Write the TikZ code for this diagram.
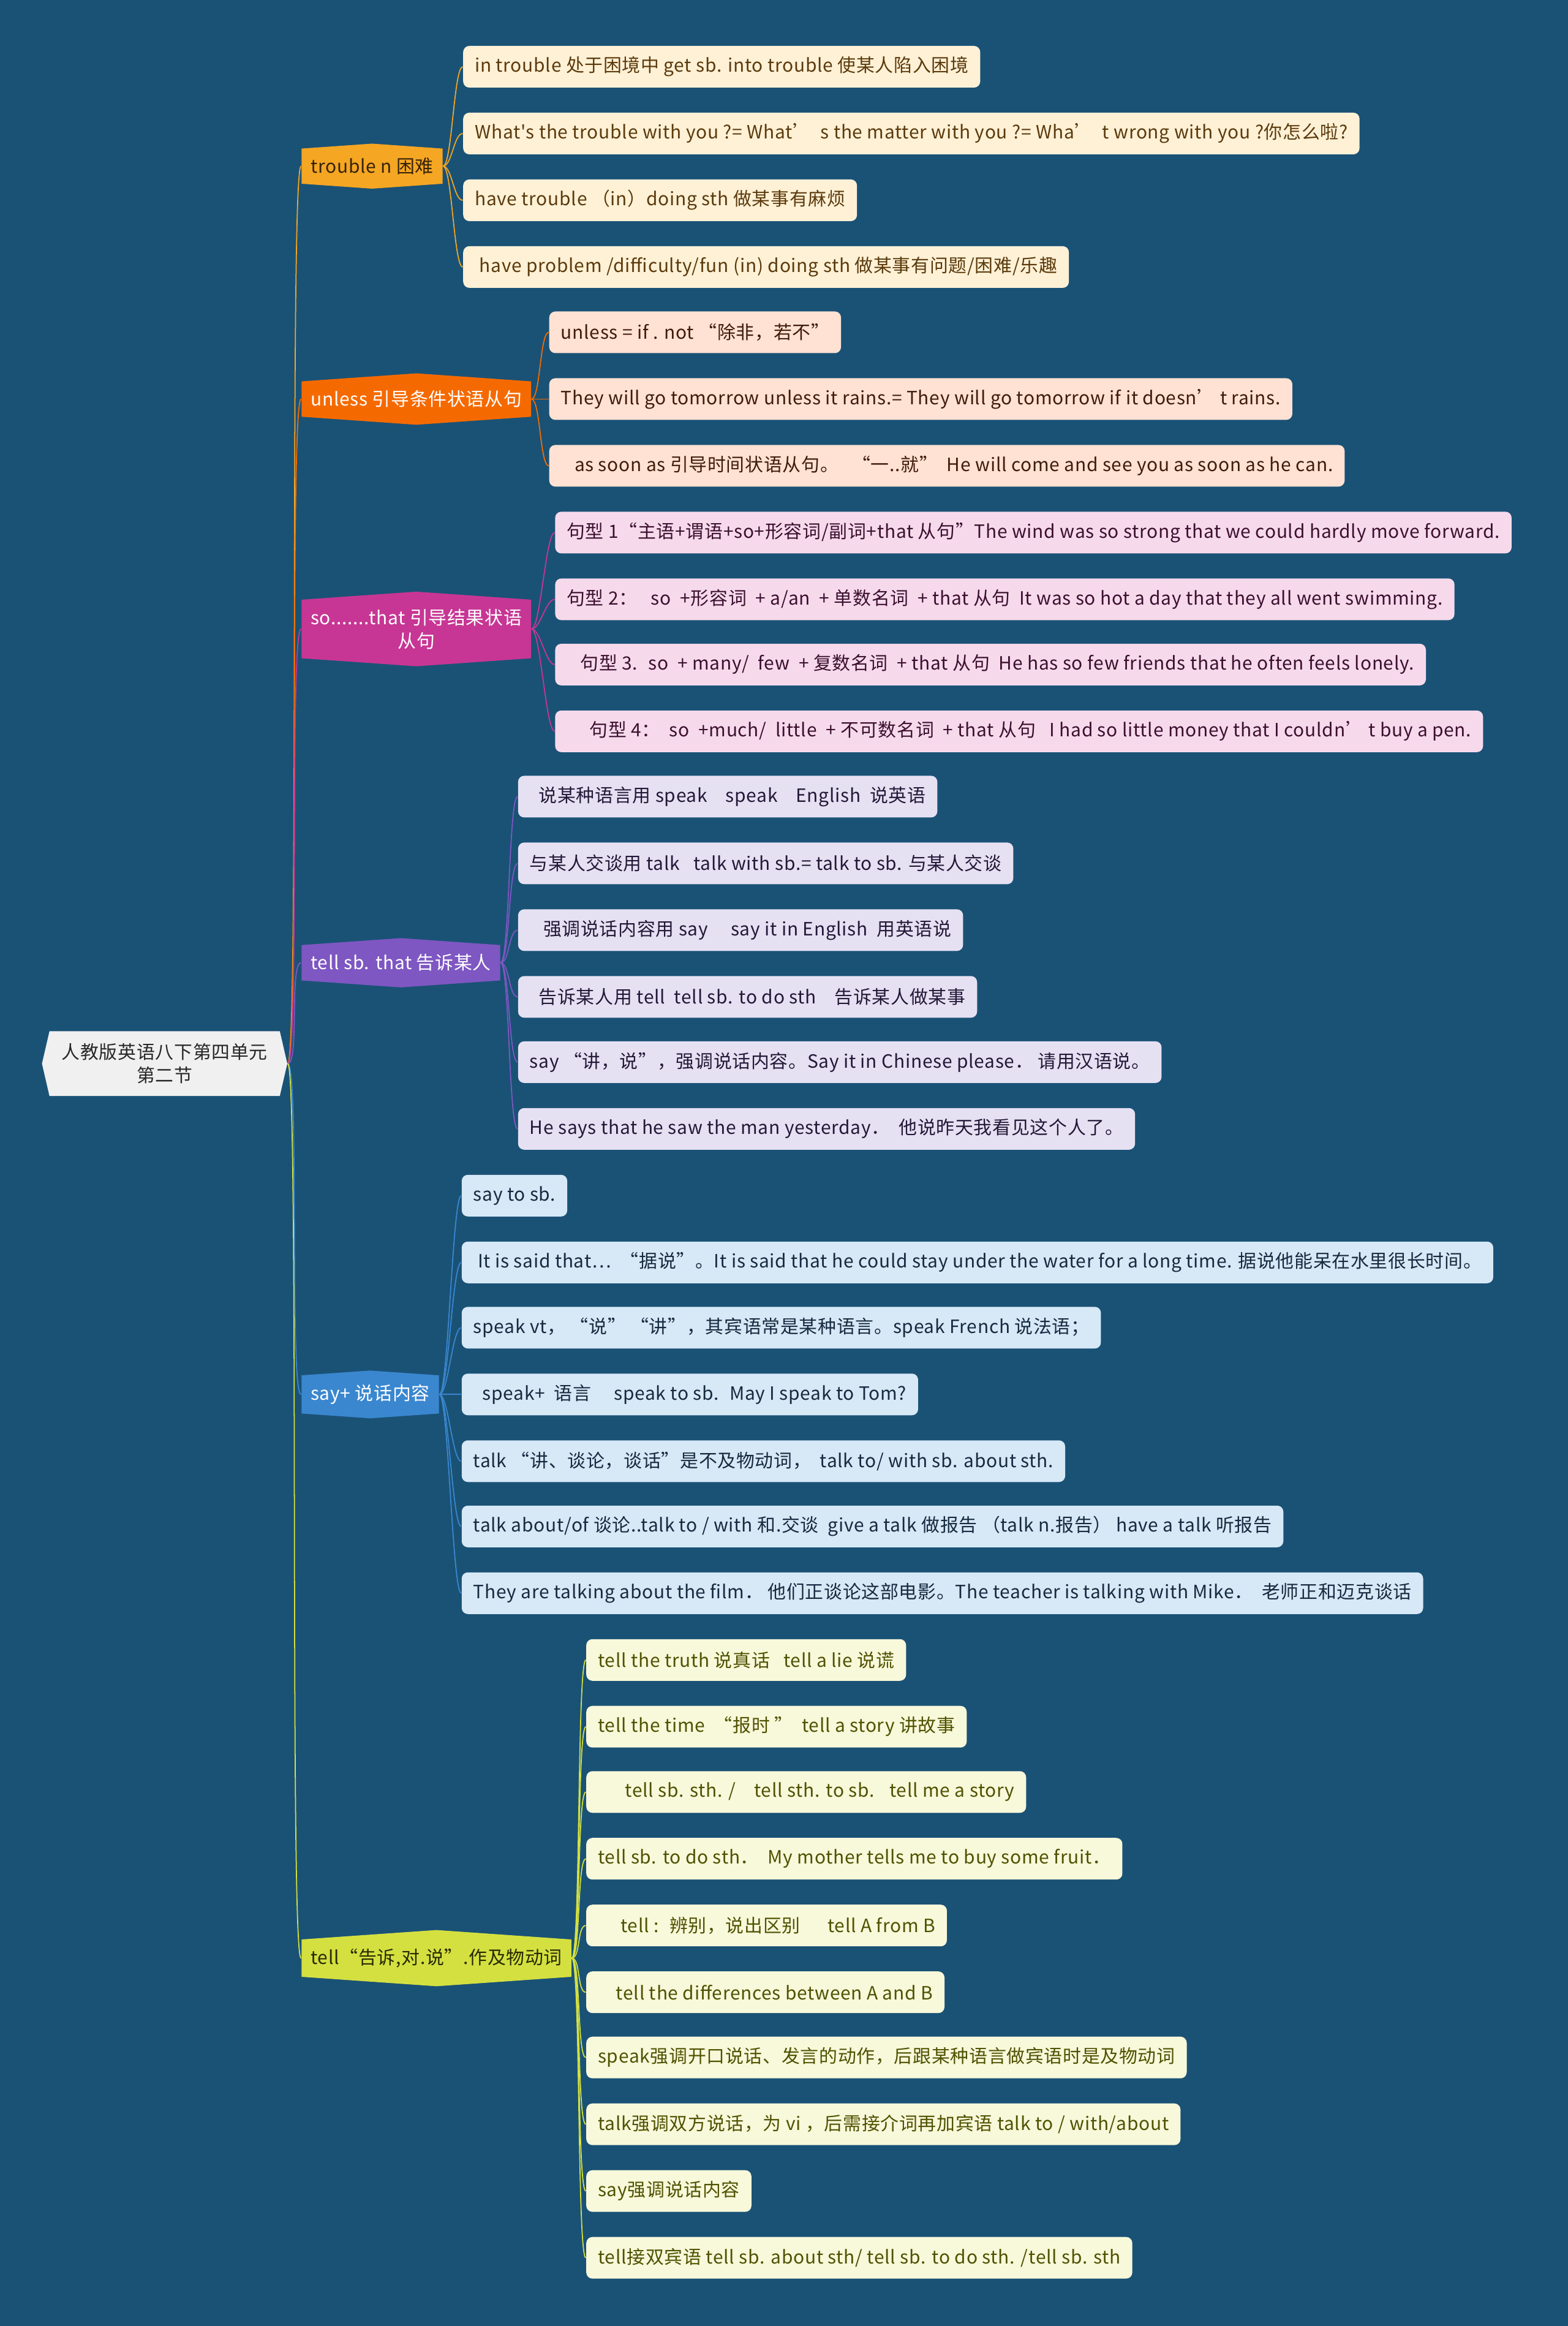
\documentclass[tikz,border=0pt]{standalone}
\usepackage{fontspec}
\setmainfont{Noto Sans CJK SC}[Ligatures=TeXOff, LetterSpace=2.5]
\usepackage{tikz}
\usetikzlibrary{shapes.symbols}
\definecolor{mapBg}{RGB}{26,82,118}
\definecolor{rootFill}{RGB}{240,240,240}
\definecolor{rootText}{RGB}{40,40,40}
\definecolor{troubleC}{RGB}{245,166,35}
\definecolor{troubleLeaf}{RGB}{255,241,214}
\definecolor{troubleText}{RGB}{91,58,12}
\definecolor{unlessC}{RGB}{245,106,0}
\definecolor{unlessLeaf}{RGB}{255,226,211}
\definecolor{unlessText}{RGB}{64,27,12}
\definecolor{sothatC}{RGB}{199,54,148}
\definecolor{sothatLeaf}{RGB}{246,218,236}
\definecolor{sothatText}{RGB}{60,15,46}
\definecolor{tellsbC}{RGB}{126,87,194}
\definecolor{tellsbLeaf}{RGB}{230,225,242}
\definecolor{tellsbText}{RGB}{34,24,56}
\definecolor{sayC}{RGB}{58,135,208}
\definecolor{sayLeaf}{RGB}{215,232,246}
\definecolor{sayText}{RGB}{21,42,64}
\definecolor{tellC}{RGB}{212,224,64}
\definecolor{tellLeaf}{RGB}{248,248,218}
\definecolor{tellText}{RGB}{79,82,0}

\begin{document}
\begin{tikzpicture}[
    x=0.02422cm, y=-0.02422cm,
    every node/.style={font=\fontsize{8.5}{10.8}\selectfont},
    rootbox/.style={shape=signal, signal to=west and east, signal pointer angle=154,
      fill=rootFill, text=rootText, align=center, inner xsep=0.2cm, inner ysep=0.2cm},
    branchbox/.style={shape=signal, signal to=north and south, signal pointer angle=172,
      anchor=west, align=center, inner xsep=0.15cm, inner ysep=0.15cm},
    leafbox/.style={rounded corners=1mm, anchor=west, minimum height=0.68cm,
      inner xsep=0.19cm, inner ysep=0.1cm},
    linkline/.style={line width=0.5pt}
  ]
    \useasboundingbox (0,0) rectangle (1057,1568);
    \fill[mapBg] (0,0) rectangle (1057,1568);

    % Root
    \node[rootbox] (root) at (111, 717) {人教版英语八下第四单元\\第二节};

    % Branches
    \node[branchbox, fill=troubleC, text=troubleText!60!black] (trouble) at (203, 112) {trouble n 困难};
    \node[branchbox, fill=unlessC, text=white] (unless) at (203, 269) {unless 引导条件状语从句};
    \node[branchbox, fill=sothatC, text=white] (sothat) at (203, 424) {so.......that 引导结果状语\\从句};
    \node[branchbox, fill=tellsbC, text=white] (tellsb) at (203, 649) {tell sb. that 告诉某人};
    \node[branchbox, fill=sayC, text=white] (say) at (203, 940) {say+ 说话内容};
    \node[branchbox, fill=tellC, text=tellText!50!black] (tell) at (203, 1320) {tell“告诉,对.说”.作及物动词};

    % trouble
    \node[leafbox, fill=troubleLeaf, text=troubleText] (tr1) at (312, 45) {in trouble 处于困境中 get sb. into trouble 使某人陷入困境};
    \node[leafbox, fill=troubleLeaf, text=troubleText] (tr2) at (312, 90) {What's the trouble with you ?= What’~ s the matter with you ?= Wha’~ t wrong with you ?你怎么啦?};
    \node[leafbox, fill=troubleLeaf, text=troubleText] (tr3) at (312, 135) {have trouble （in）doing sth 做某事有麻烦};
    \node[leafbox, fill=troubleLeaf, text=troubleText] (tr4) at (312, 180) {~have problem /difficulty/fun (in) doing sth 做某事有问题/困难/乐趣};

    % unless
    \node[leafbox, fill=unlessLeaf, text=unlessText] (un1) at (370, 224) {unless = if . not “除非，若不”};
    \node[leafbox, fill=unlessLeaf, text=unlessText] (un2) at (370, 269) {They will go tomorrow unless it rains.= They will go tomorrow if it doesn’ t rains.};
    \node[leafbox, fill=unlessLeaf, text=unlessText] (un3) at (370, 314) {~~~as soon as 引导时间状语从句。~~ “一..就”~ He will come and see you as soon as he can.};

    % so ... that
    \node[leafbox, fill=sothatLeaf, text=sothatText] (so1) at (374, 359) {句型 1“主语+谓语+so+形容词/副词+that 从句”The wind was so strong that we could hardly move forward.};
    \node[leafbox, fill=sothatLeaf, text=sothatText] (so2) at (374, 404) {句型 2：~~ so~ +形容词~ + a/an~ + 单数名词~ + that 从句~ It was so hot a day that they all went swimming.};
    \node[leafbox, fill=sothatLeaf, text=sothatText] (so3) at (374, 448) {~~~句型 3.~ so~ + many/~ few~ + 复数名词~ + that 从句~ He has so few friends that he often feels lonely.};
    \node[leafbox, fill=sothatLeaf, text=sothatText] (so4) at (374, 493) {~~~~~句型 4：~ so~ +much/~ little~ + 不可数名词~ + that 从句~~ I had so little money that I couldn’ t buy a pen.};

    % tell sb. that
    \node[leafbox, fill=tellsbLeaf, text=tellsbText] (ts1) at (349, 537) {~~说某种语言用 speak~~~ speak~~~ English~ 说英语};
    \node[leafbox, fill=tellsbLeaf, text=tellsbText] (ts2) at (349, 582) {与某人交谈用 talk~~ talk with sb.= talk to sb. 与某人交谈};
    \node[leafbox, fill=tellsbLeaf, text=tellsbText] (ts3) at (349, 627) {~~~强调说话内容用 say~~~~ say it in English~ 用英语说};
    \node[leafbox, fill=tellsbLeaf, text=tellsbText] (ts4) at (349, 672) {~~告诉某人用 tell~ tell sb. to do sth~~~ 告诉某人做某事};
    \node[leafbox, fill=tellsbLeaf, text=tellsbText] (ts5) at (349, 716) {say “讲，说”，强调说话内容。Say it in Chinese please． 请用汉语说。};
    \node[leafbox, fill=tellsbLeaf, text=tellsbText] (ts6) at (349, 761) {He says that he saw the man yesterday．~ 他说昨天我看见这个人了。};

    % say+
    \node[leafbox, fill=sayLeaf, text=sayText] (sa1) at (311, 806) {say to sb.};
    \node[leafbox, fill=sayLeaf, text=sayText] (sa2) at (311, 851) {~It is said that…~ “据说”。It is said that he could stay under the water for a long time. 据说他能呆在水里很长时间。};
    \node[leafbox, fill=sayLeaf, text=sayText] (sa3) at (311, 895) {speak vt， “说” “讲”，其宾语常是某种语言。speak French 说法语；};
    \node[leafbox, fill=sayLeaf, text=sayText] (sa4) at (311, 940) {~~speak+~ 语言~~~~ speak to sb.~ May I speak to Tom?};
    \node[leafbox, fill=sayLeaf, text=sayText] (sa5) at (311, 985) {talk “讲、谈论，谈话”是不及物动词，~ talk to/ with sb. about sth.};
    \node[leafbox, fill=sayLeaf, text=sayText] (sa6) at (311, 1029) {talk about/of 谈论..talk to / with 和.交谈~ give a talk 做报告 （talk n.报告） have a talk 听报告};
    \node[leafbox, fill=sayLeaf, text=sayText] (sa7) at (311, 1074) {They are talking about the film． 他们正谈论这部电影。The teacher is talking with Mike．~ 老师正和迈克谈话};

    % tell
    \node[leafbox, fill=tellLeaf, text=tellText] (te1) at (395, 1119) {tell the truth 说真话~~ tell a lie 说谎};
    \node[leafbox, fill=tellLeaf, text=tellText] (te2) at (395, 1164) {tell the time~ “报时 ”~ tell a story 讲故事};
    \node[leafbox, fill=tellLeaf, text=tellText] (te3) at (395, 1208) {~~~~~~tell sb. sth. /~~~ tell sth. to sb.~~ tell me a story};
    \node[leafbox, fill=tellLeaf, text=tellText] (te4) at (395, 1253) {tell sb. to do sth．~ My mother tells me to buy some fruit．};
    \node[leafbox, fill=tellLeaf, text=tellText] (te5) at (395, 1298) {~~~~~tell :~ 辨别，说出区别~~~~~ tell A from B};
    \node[leafbox, fill=tellLeaf, text=tellText] (te6) at (395, 1343) {~~~~tell the differences between A and B};
    \node[leafbox, fill=tellLeaf, text=tellText] (te7) at (395, 1387) {speak强调开口说话、发言的动作，后跟某种语言做宾语时是及物动词};
    \node[leafbox, fill=tellLeaf, text=tellText] (te8) at (395, 1432) {talk强调双方说话，为 vi ，后需接介词再加宾语 talk to / with/about};
    \node[leafbox, fill=tellLeaf, text=tellText] (te9) at (395, 1477) {say强调说话内容};
    \node[leafbox, fill=tellLeaf, text=tellText] (te10) at (395, 1522) {tell接双宾语 tell sb. about sth/ tell sb. to do sth. /tell sb. sth};

    % Root links
    \draw[linkline, troubleC] (root.east) .. controls +(8,0) and +(-8,0) .. (trouble.west);
    \draw[linkline, unlessC] (root.east) .. controls +(8,0) and +(-8,0) .. (unless.west);
    \draw[linkline, sothatC] (root.east) .. controls +(8,0) and +(-8,0) .. (sothat.west);
    \draw[linkline, tellsbC] (root.east) .. controls +(8,0) and +(-8,0) .. (tellsb.west);
    \draw[linkline, sayC] (root.east) .. controls +(8,0) and +(-8,0) .. (say.west);
    \draw[linkline, tellC] (root.east) .. controls +(8,0) and +(-8,0) .. (tell.west);

    % Leaf links
    \foreach \i in {1,...,4}
      \draw[linkline, troubleC] (trouble.east) .. controls +(6,0) and +(-6,0) .. (tr\i.west);
    \foreach \i in {1,...,3}
      \draw[linkline, unlessC] (unless.east) .. controls +(6,0) and +(-6,0) .. (un\i.west);
    \foreach \i in {1,...,4}
      \draw[linkline, sothatC] (sothat.east) .. controls +(6,0) and +(-6,0) .. (so\i.west);
    \foreach \i in {1,...,6}
      \draw[linkline, tellsbC] (tellsb.east) .. controls +(6,0) and +(-6,0) .. (ts\i.west);
    \foreach \i in {1,...,7}
      \draw[linkline, sayC] (say.east) .. controls +(6,0) and +(-6,0) .. (sa\i.west);
    \foreach \i in {1,...,10}
      \draw[linkline, tellC] (tell.east) .. controls +(6,0) and +(-6,0) .. (te\i.west);
\end{tikzpicture}
\end{document}
